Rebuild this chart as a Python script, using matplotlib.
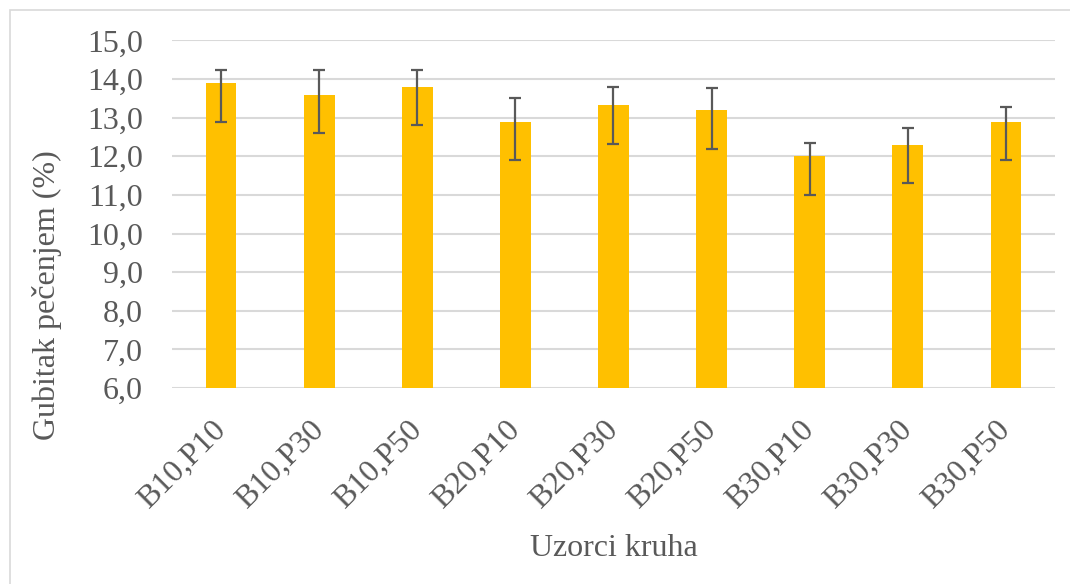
'''
Gubitak pecenjem - bar chart with error bars
'''

# Imports
import numpy as np
import matplotlib.pyplot as plt
from matplotlib.patches import Rectangle

# Data
samples = ['B10,P10', 'B10,P30', 'B10,P50', 'B20,P10', 'B20,P30',
           'B20,P50', 'B30,P10', 'B30,P30', 'B30,P50']
loss = [13.9, 13.6, 13.8, 12.9, 13.33, 13.2, 12.0, 12.3, 12.9]
err_low = [1.0, 1.0, 1.0, 1.0, 1.0, 1.0, 1.0, 1.0, 1.0]
err_high = [0.34, 0.63, 0.43, 0.62, 0.47, 0.57, 0.35, 0.43, 0.38]
y_ticks = [6, 7, 8, 9, 10, 11, 12, 13, 14, 15]

# Style
plt.rcParams['font.family'] = ['Liberation Serif', 'DejaVu Serif']
txt_col = '#595959'
grid_col = '#d9d9d9'
fs = 23

fig = plt.figure(figsize=(10.7, 5.84), dpi=100)
ax = fig.add_axes([0.1607, 0.3356, 0.8253, 0.5951])

# outer chart border (only top/left visible in the crop)
fig.patches.append(Rectangle((10 / 1070, -0.05), 1.2, 1.05 - 10 / 584,
                             transform=fig.transFigure, fill=False,
                             edgecolor=grid_col, linewidth=1.2))

x = np.arange(len(samples))
ax.bar(x, loss, width=0.315, color='#FFC000', zorder=2)
ax.errorbar(x, loss, yerr=[err_low, err_high], fmt='none', ecolor=txt_col,
            elinewidth=1.6, capsize=4, capthick=1.6, zorder=3)

ax.set_xlim(-0.5, len(samples) - 0.5)
ax.set_ylim(6, 15)
ax.set_yticks(y_ticks)
ax.yaxis.set_major_formatter(plt.FuncFormatter(lambda v, p: ('%.1f' % v).replace('.', ',')))
ax.grid(axis='y', color=grid_col, linewidth=1.5, zorder=0)
ax.set_axisbelow(True)
for s in ax.spines.values():
    s.set_visible(False)
ax.tick_params(length=0, labelsize=fs, colors=txt_col)
ax.tick_params(axis='y', pad=21)
ax.tick_params(axis='x', pad=27)

ax.set_xticks(x)
ax.set_xticklabels(samples, rotation=45, ha='right', va='center',
                   rotation_mode='anchor')

ax.set_ylabel('Gubitak pečenjem (%)', fontsize=fs, color=txt_col)
ax.yaxis.set_label_coords(-0.124, 0.268)
ax.set_xlabel('Uzorci kruha', fontsize=fs, color=txt_col, labelpad=14)

fig.savefig('out.png', dpi=100)
